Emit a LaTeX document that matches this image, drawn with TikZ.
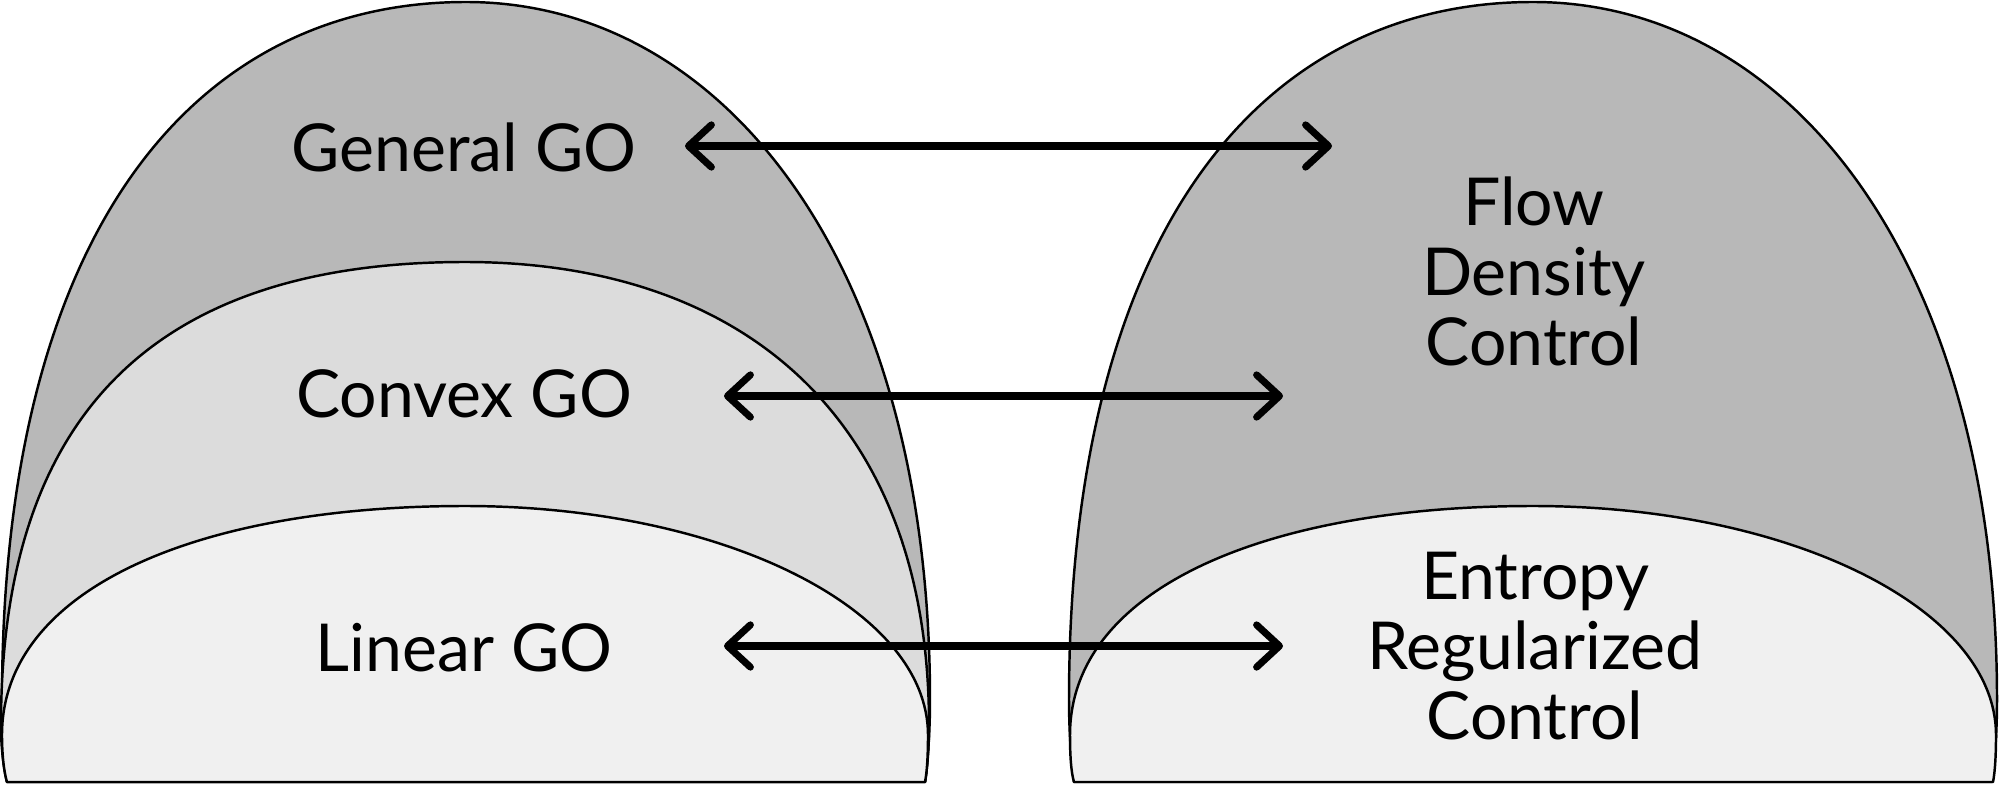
\documentclass[tikz,border=0pt]{standalone}
\usepackage{fontspec}
\setmainfont{Lato}
\usetikzlibrary{arrows.meta}
\definecolor{gdark}{HTML}{B8B8B8}
\definecolor{gmid}{HTML}{DCDCDC}
\definecolor{glight}{HTML}{F0F0F0}
\begin{document}
\begin{tikzpicture}[x=0.01cm,y=-0.01cm,
  dome/.style={draw=black,line width=0.7pt,line join=round},
  lbl/.style={font=\fontsize{18.8}{19.9}\selectfont,inner sep=0pt,align=center},
  link/.style={line width=2pt,line cap=round,
    {Straight Barb[length=6.5pt,width=12pt,line join=round,line cap=round]}-{Straight Barb[length=6.5pt,width=12pt,line join=round,line cap=round]}}
]
\useasboundingbox (0,0) rectangle (2000,785);
% left domes
\path[dome,fill=gdark] (7,782) -- (925,782) .. controls (928,760) and (930,730) .. (930,700)
  .. controls (930,267) and (726,2) .. (466,2)
  .. controls (195,2) and (2,230) .. (2,700)
  .. controls (2,730) and (4,760) .. (7,782) -- cycle;
\path[dome,fill=gmid] (7,782) -- (925,782) .. controls (927,770) and (929,750) .. (929,725)
  .. controls (929,419) and (744,262) .. (465,262)
  .. controls (175,262) and (1,395) .. (1,725)
  .. controls (1,750) and (4,770) .. (7,782) -- cycle;
\path[dome,fill=glight] (7,782) -- (925,782) .. controls (927,772) and (928,755) .. (928,735)
  .. controls (928,608) and (721,506) .. (465,506)
  .. controls (195,506) and (2,590) .. (2,735)
  .. controls (2,755) and (4,772) .. (7,782) -- cycle;
% right domes
\begin{scope}[shift={(1067,0)}]
\path[dome,fill=gdark] (7,782) -- (925,782) .. controls (928,760) and (930,730) .. (930,700)
  .. controls (930,267) and (726,2) .. (466,2)
  .. controls (195,2) and (2,230) .. (2,700)
  .. controls (2,730) and (4,760) .. (7,782) -- cycle;
\path[dome,fill=glight] (7,782) -- (926,782) .. controls (928,772) and (929,755) .. (929,735)
  .. controls (929,608) and (722,506) .. (466,506)
  .. controls (196,506) and (3,590) .. (3,735)
  .. controls (3,755) and (4,772) .. (7,782) -- cycle;
\end{scope}
% labels
\node[lbl,anchor=base] (gen) at (464,172) {General GO};
\node[lbl,anchor=base] (cvx) at (464,417) {Convex GO};
\node[lbl,anchor=base] (lin) at (464,671) {Linear GO};
\node[lbl,anchor=base] (fdc) at (1534,365) {Flow\\Density\\Control};
\node[lbl,anchor=base] (erc) at (1535,739) {Entropy\\Regularized\\Control};
% arrows
\coordinate (a1l) at (685,146);
\coordinate (a1r) at (1332,146);
\coordinate (a2l) at (724,396);
\coordinate (a2r) at (1283,396);
\coordinate (a3l) at (724,646);
\coordinate (a3r) at (1283,646);
\draw[link] (a1l) -- (a1r);
\draw[link] (a2l) -- (a2r);
\draw[link] (a3l) -- (a3r);
\end{tikzpicture}
\end{document}
